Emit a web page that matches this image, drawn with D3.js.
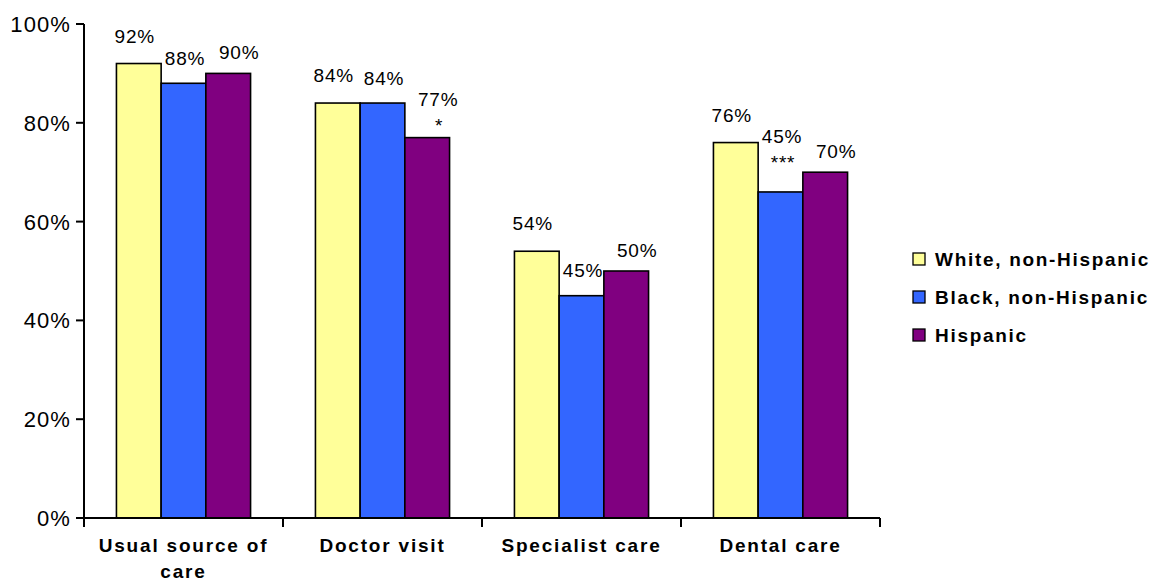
<!DOCTYPE html>
<html>
<head>
<meta charset="utf-8">
<script src="https://cdn.jsdelivr.net/npm/d3@7"></script>
<style>
  html, body { margin: 0; padding: 0; background: #fff; }
  svg { display: block; font-family: "Liberation Sans", Arial, sans-serif; }
</style>
</head>
<body>
<svg id="chart" width="1151" height="583"></svg>
<script>
// ---- Data ----
const categories = ["Usual source of care", "Doctor visit", "Specialist care", "Dental care"];
const seriesNames = ["White, non-Hispanic", "Black, non-Hispanic", "Hispanic"];
const whiteValues = [92, 84, 54, 76];
const blackValues = [88, 84, 45, 66];
const hispanicValues = [90, 77, 50, 70];
const whiteLabels = ["92%", "84%", "54%", "76%"];
const blackLabels = ["88%", "84%", "45%", "45%"];
const hispanicLabels = ["90%", "77%", "50%", "70%"];
const whiteMarks = ["", "", "", ""];
const blackMarks = ["", "", "", "***"];
const hispanicMarks = ["", "*", "", ""];
const yTicks = [0, 20, 40, 60, 80, 100];
const colors = ["#FFFF99", "#3366FF", "#800080"];

const seriesValues = [whiteValues, blackValues, hispanicValues];
const seriesLabels = [whiteLabels, blackLabels, hispanicLabels];
const seriesMarks = [whiteMarks, blackMarks, hispanicMarks];

// ---- Layout ----
const svg = d3.select("#chart");
const mLeft = 84, mRight = 880, mTop = 24, mBottom = 518;

const y = d3.scaleLinear().domain([0, 100]).range([mBottom, mTop]);
const x0 = d3.scaleBand().domain(categories).range([mLeft, mRight]).padding(0);
const gap = x0.bandwidth() * 0.163;
const x1 = d3.scaleBand().domain(seriesNames).range([gap, x0.bandwidth() - gap]).padding(0);

// per-series label nudges (style)
const labelDx = [-4, 1.5, 11];
const labelDy = [21, 18.5, 14];

// ---- Bars ----
const data = [];
categories.forEach((c, i) => {
  seriesNames.forEach((s, j) => {
    data.push({ cat: c, series: s, j, value: seriesValues[j][i], label: seriesLabels[j][i], mark: seriesMarks[j][i] });
  });
});

svg.append("g").selectAll("rect").data(data).join("rect")
  .attr("x", d => x0(d.cat) + x1(d.series))
  .attr("y", d => y(d.value))
  .attr("width", x1.bandwidth())
  .attr("height", d => y(0) - y(d.value))
  .attr("fill", d => colors[d.j])
  .attr("stroke", "#000")
  .attr("stroke-width", 1.6);

// ---- Data labels ----
const lbl = svg.append("g").attr("font-size", 19).attr("letter-spacing", 0.8).attr("fill", "#000");
data.forEach(d => {
  const cx = x0(d.cat) + x1(d.series) + x1.bandwidth() / 2 + labelDx[d.j];
  const extra = d.mark ? 12 + 6 * d.mark.length : 0;
  const base = y(d.value) - labelDy[d.j] - extra;
  lbl.append("text").attr("x", cx).attr("y", base).attr("text-anchor", "middle").text(d.label);
  if (d.mark) {
    lbl.append("text").attr("x", cx + 1).attr("y", base + 26).attr("text-anchor", "middle").text(d.mark);
  }
});

// ---- Axes ----
const axisG = svg.append("g").attr("stroke", "#000").attr("stroke-width", 2);
axisG.append("line").attr("x1", mLeft).attr("x2", mLeft).attr("y1", mTop).attr("y2", mBottom + 9);
axisG.append("line").attr("x1", mLeft).attr("x2", mRight).attr("y1", mBottom).attr("y2", mBottom);
axisG.selectAll(".yt").data(yTicks).join("line")
  .attr("x1", mLeft - 8).attr("x2", mLeft).attr("y1", d => y(d)).attr("y2", d => y(d));
const bounds = categories.map(c => x0(c)).concat([mRight]);
axisG.selectAll(".xt").data(bounds).join("line")
  .attr("x1", d => d).attr("x2", d => d).attr("y1", mBottom).attr("y2", mBottom + 9);

svg.append("g").attr("font-size", 22).attr("letter-spacing", 1.1)
  .selectAll("text").data(yTicks).join("text")
  .attr("x", mLeft - 13).attr("y", d => y(d)).attr("dy", "0.36em")
  .attr("text-anchor", "end").text(d => d + "%");

// ---- Category labels ----
const catG = svg.append("g").attr("font-size", 19).attr("font-weight", "bold").attr("letter-spacing", 1.8);
categories.forEach(c => {
  const cx = x0(c) + x0.bandwidth() / 2;
  const words = c.split(" ");
  const lines = [];
  let cur = [];
  const probe = catG.append("text");
  words.forEach(w => {
    const test = cur.concat([w]).join(" ");
    probe.text(test);
    if (probe.node().getComputedTextLength() > 185 && cur.length) {
      lines.push(cur.join(" "));
      cur = [w];
    } else cur.push(w);
  });
  lines.push(cur.join(" "));
  probe.remove();
  lines.forEach((ln, k) => {
    catG.append("text").attr("x", cx).attr("y", 552 + k * 26).attr("text-anchor", "middle").text(ln);
  });
});

// ---- Legend ----
const leg = svg.append("g").attr("font-size", 19).attr("font-weight", "bold").attr("letter-spacing", 1.7);
seriesNames.forEach((s, j) => {
  const cy = 259 + j * 38;
  leg.append("rect").attr("x", 913).attr("y", cy - 6).attr("width", 12).attr("height", 12)
    .attr("fill", colors[j]).attr("stroke", "#000").attr("stroke-width", 1.3);
  leg.append("text").attr("x", 935).attr("y", cy + 7).text(s);
});
</script>
</body>
</html>
